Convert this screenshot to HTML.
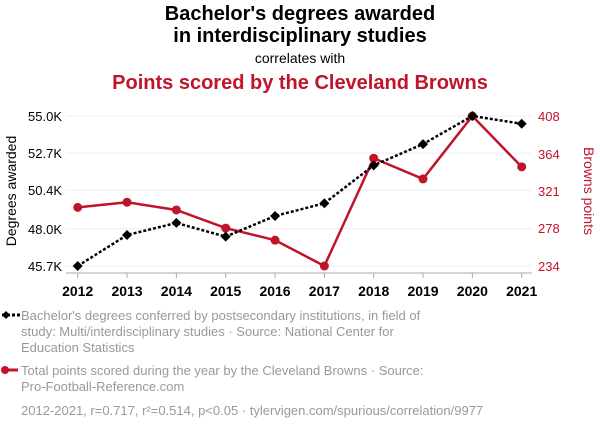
<!DOCTYPE html>
<html><head><meta charset="utf-8"><style>
body{margin:0;width:600px;height:430px;background:#fff;overflow:hidden;font-family:"Liberation Sans",sans-serif}
svg text{font-family:"Liberation Sans",sans-serif}
</style></head><body>
<svg id="c" width="600" height="430">
<text x="300" y="20" text-anchor="middle" font-size="20" font-weight="bold" fill="#000">Bachelor's degrees awarded</text>
<text x="300" y="42" text-anchor="middle" font-size="20" font-weight="bold" fill="#000">in interdisciplinary studies</text>
<text x="300" y="63" text-anchor="middle" font-size="14" fill="#000">correlates with</text>
<text x="300" y="89" text-anchor="middle" font-size="20" font-weight="bold" fill="#c0142a">Points scored by the Cleveland Browns</text>
<g id="grid"></g><g id="axes"></g><g id="marks"></g>
<text transform="translate(16,191) rotate(-90)" text-anchor="middle" font-size="14" fill="#000">Degrees awarded</text>
<text transform="translate(584,191) rotate(90)" text-anchor="middle" font-size="14" fill="#c0142a">Browns points</text>
<g font-size="13" fill="#999">
<line x1="2" y1="315" x2="20" y2="315" stroke="#000" stroke-width="3" stroke-dasharray="3,2"/>
<path d="M2 315 L6 311 L10 315 L6 319Z" fill="#000"/>
<text x="21" y="320">Bachelor's degrees conferred by postsecondary institutions, in field of</text>
<text x="21" y="336">study: Multi/interdisciplinary studies · Source: National Center for</text>
<text x="21" y="352">Education Statistics</text>
<line x1="2" y1="370" x2="18" y2="370" stroke="#c0142a" stroke-width="3"/>
<circle cx="5" cy="370" r="4" fill="#c0142a"/>
<text x="21" y="375">Total points scored during the year by the Cleveland Browns · Source:</text>
<text x="21" y="391">Pro-Football-Reference.com</text>
<text x="21" y="415">2012-2021, r=0.717, r²=0.514, p&lt;0.05 · tylervigen.com/spurious/correlation/9977</text>
</g>
</svg>
<script>
const years=[2012,2013,2014,2015,2016,2017,2018,2019,2020,2021];
const degrees=[45.7,47.62,48.37,47.52,48.8,49.59,51.94,53.26,55.0,54.52];
const points=[302,308,299,278,264,234,359,335,408,349];
const leftTicks=[45.7,48.0,50.4,52.7,55.0];
const leftTickLabels=["45.7K","48.0K","50.4K","52.7K","55.0K"];
const rightTicks=[234,278,321,364,408];
const NS="http://www.w3.org/2000/svg";
const x=i=>77.7+(521.7-77.7)*(years[i]-years[0])/(years[years.length-1]-years[0]);
const yL=v=>266-(v-45.7)/(55.0-45.7)*150;
const yR=v=>266-(v-234)/(408-234)*150;
function mk(tag,attrs,parent,txt){const e=document.createElementNS(NS,tag);for(const k in attrs)e.setAttribute(k,attrs[k]);if(txt!=null)e.textContent=txt;document.getElementById(parent).appendChild(e);return e;}
leftTicks.forEach((t,i)=>{
 const g=mk('line',{x1:66,x2:532,y1:yL(t),y2:yL(t),stroke:'#eee','stroke-width':1},'grid');
 
 
 const l=mk('text',{x:62,y:yL(t)+5,'text-anchor':'end','font-size':13,fill:'#000'},'axes',leftTickLabels[i]);
 
 
});
rightTicks.forEach(t=>{
 const l=mk('text',{x:538,y:yR(t)+5,'font-size':13,fill:'#c0142a'},'axes',String(t));
 
 
});
const ax=mk('line',{x1:66,x2:532,y1:273,y2:273,stroke:'#aaa','stroke-width':1},'axes');


years.forEach((yr,i)=>{
 const tk=mk('line',{x1:x(i),x2:x(i),y1:273,y2:278,stroke:'#aaa'},'axes');
 
 
 const l=mk('text',{x:x(i),y:296,'text-anchor':'middle','font-size':14,'font-weight':'bold',fill:'#000'},'axes',String(yr));
 
 
});
const rp=mk('polyline',{points:points.map((v,i)=>x(i)+','+yR(v)).join(' '),fill:'none',stroke:'#c0142a','stroke-width':2.5},'marks');


points.forEach((v,i)=>{
 const c=mk('circle',{cx:x(i),cy:yR(v),r:4.5,fill:'#c0142a'},'marks');
 
 
});
const bp=mk('polyline',{points:degrees.map((v,i)=>x(i)+','+yL(v)).join(' '),fill:'none',stroke:'#000','stroke-width':2.5,'stroke-dasharray':'3,2'},'marks');


degrees.forEach((v,i)=>{
 const cx=x(i),cy=yL(v);
 const d=mk('path',{d:`M${cx-5} ${cy} L${cx} ${cy-5} L${cx+5} ${cy} L${cx} ${cy+5}Z`,fill:'#000'},'marks');
 
 
});
</script>
</body></html>
